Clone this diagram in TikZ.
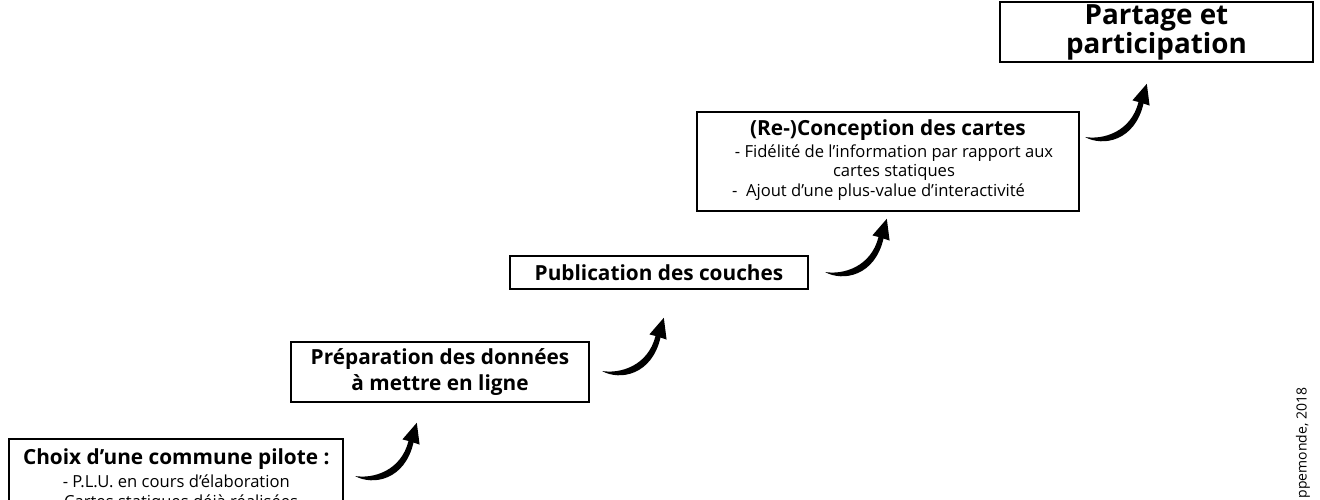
\documentclass[tikz,border=0pt]{standalone}
\usepackage{fontspec}
\setmainfont{Open Sans}
\tikzset{
  box/.style={draw, line width=2.2pt, inner sep=0pt, align=center, fill=white,
    font=\fontsize{16.6}{19.8}\selectfont},
  curvarrow/.pic={
    \fill[black] (0,0) .. controls (18,10) and (50,4) .. (58.5,-33.5)
      -- (64.6,-31.4) -- (61.8,-53.2) -- (47.4,-36.6) -- (53.5,-35)
      .. controls (46,-5) and (18,3) .. (0,0) -- cycle;
  }
}
\newcommand{\hd}{\bfseries\fontsize{20.8}{25}\selectfont}
\newcommand{\hdbig}{\bfseries\fontsize{27.8}{34}\selectfont}
\begin{document}
\begin{tikzpicture}[x=1pt,y=-1pt]
\useasboundingbox (0,0) rectangle (1320,500);
\clip (0,0) rectangle (1320,500);

\node[box, minimum width=334pt, anchor=north, inner ysep=9.5pt] (b1) at (176.3,438)
  {{\hd Choix d’une commune pilote :}\\[3pt]
   - P.L.U. en cours d’élaboration\\[0.5pt]
   - Cartes statiques déjà réalisées};

\node[box, minimum width=298pt, minimum height=60pt] (b2) at (440,372)
  {{\hd Préparation des données}\\[5pt]{\hd à mettre en ligne}};

\node[box, minimum width=298pt, minimum height=33pt] (b3) at (659,272.5)
  {{\hd Publication des couches}};

\node[box, minimum width=382pt, minimum height=99pt] (b4) at (888,161.4)
  {{\hd (Re-)Conception des cartes}\\[1.5pt]
   \hspace*{12pt}- Fidélité de l’information par rapport aux\\
   \hspace*{12pt}cartes statiques\\
   -~ Ajout d’une plus-value d’interactivité\hspace*{19pt}\strut};

\node[box, minimum width=313pt, anchor=south, inner ysep=2.5pt] (b5) at (1156.5,63.5)
  {{\hdbig Partage et}\\{\hdbig participation}};

\pic at (355,476) {curvarrow};
\pic at (602,371) {curvarrow};
\pic at (825,272) {curvarrow};
\pic at (1085,137) {curvarrow};

\node[rotate=90, font=\fontsize{14}{16}\selectfont] (src) at (1303,443) {ppemonde, 2018};
\end{tikzpicture}
\end{document}
